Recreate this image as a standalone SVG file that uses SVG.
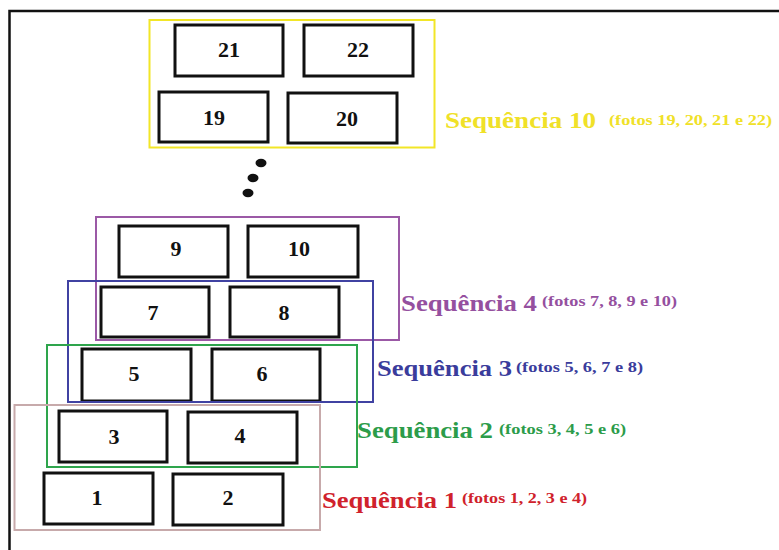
<svg xmlns="http://www.w3.org/2000/svg" width="779" height="550" viewBox="0 0 779 550">
  <style>
    .photo rect { fill: #ffffff; stroke: #111111; stroke-width: 3; }
    .photo text { font-family: "Liberation Serif", "Times New Roman", serif; font-weight: bold; font-size: 22px; fill: #111111; text-anchor: middle; }
    .seq { fill: none; stroke-width: 2; }
    .title { font-family: "Liberation Serif", "Times New Roman", serif; font-weight: bold; font-size: 23px; }
    .note { font-family: "Liberation Serif", "Times New Roman", serif; font-weight: bold; font-size: 14px; }
  </style>

  <rect x="0" y="0" width="779" height="550" fill="#ffffff"/>
  <!-- page border -->
  <path d="M9.5,550 V11 H779" fill="none" stroke="#111111" stroke-width="2.5"/>

  <!-- photos -->
  <g id="photo-21" class="photo"><rect x="175" y="25" width="108" height="51"/><text x="229" y="57">21</text></g>
  <g id="photo-22" class="photo"><rect x="304" y="25" width="109" height="51"/><text x="358" y="57">22</text></g>
  <g id="photo-19" class="photo"><rect x="159" y="92" width="109" height="50"/><text x="214" y="125">19</text></g>
  <g id="photo-20" class="photo"><rect x="288" y="93" width="109" height="50"/><text x="347" y="126">20</text></g>

  <g id="photo-9" class="photo"><rect x="119" y="226" width="109" height="51"/><text x="176" y="256">9</text></g>
  <g id="photo-10" class="photo"><rect x="248" y="226" width="110" height="51"/><text x="299" y="256">10</text></g>
  <g id="photo-7" class="photo"><rect x="101" y="287" width="108" height="50"/><text x="153" y="320">7</text></g>
  <g id="photo-8" class="photo"><rect x="230" y="287" width="109" height="50"/><text x="284" y="320">8</text></g>
  <g id="photo-5" class="photo"><rect x="82" y="349" width="109" height="52"/><text x="134" y="381">5</text></g>
  <g id="photo-6" class="photo"><rect x="212" y="349" width="108" height="52"/><text x="262" y="381">6</text></g>
  <g id="photo-3" class="photo"><rect x="59" y="411" width="108" height="51"/><text x="114" y="444">3</text></g>
  <g id="photo-4" class="photo"><rect x="188" y="412" width="109" height="51"/><text x="240" y="443">4</text></g>
  <g id="photo-1" class="photo"><rect x="44" y="473" width="109" height="51"/><text x="97" y="505">1</text></g>
  <g id="photo-2" class="photo"><rect x="173" y="474" width="110" height="51"/><text x="228" y="505">2</text></g>

  <!-- sequence frames -->
  <g id="seq-10"><rect class="seq" x="149.5" y="20" width="285" height="127.5" stroke="#f2e627"/></g>
  <g id="seq-4"><rect class="seq" x="96" y="217" width="303" height="123" stroke="#9b59a6"/></g>
  <g id="seq-3"><rect class="seq" x="68" y="281" width="305" height="121" stroke="#4042a2"/></g>
  <g id="seq-2"><rect class="seq" x="47" y="345" width="310" height="122" stroke="#2ea54c"/></g>
  <g id="seq-1"><rect class="seq" x="14.5" y="405" width="305.5" height="125" stroke="#c7aaab"/></g>

  <!-- ellipsis between sequence 4 and sequence 10 -->
  <g id="ellipsis" fill="#111111">
    <ellipse cx="261" cy="163" rx="5.5" ry="4.2"/>
    <ellipse cx="253" cy="178" rx="5.5" ry="4.2"/>
    <ellipse cx="248" cy="193" rx="5.5" ry="4.2"/>
  </g>

  <!-- sequence labels -->
  <g id="label-10" fill="#f0e128">
    <text class="title" x="445" y="128" textLength="151" lengthAdjust="spacingAndGlyphs">Sequência 10</text>
    <text class="note" x="609" y="125" textLength="163" lengthAdjust="spacingAndGlyphs">(fotos 19, 20, 21 e 22)</text>
  </g>
  <g id="label-4" fill="#95509f">
    <text class="title" x="401" y="311" textLength="136" lengthAdjust="spacingAndGlyphs">Sequência 4</text>
    <text class="note" x="542" y="306" textLength="135" lengthAdjust="spacingAndGlyphs">(fotos 7, 8, 9 e 10)</text>
  </g>
  <g id="label-3" fill="#3a3c9c">
    <text class="title" x="377" y="376" textLength="135" lengthAdjust="spacingAndGlyphs">Sequência 3</text>
    <text class="note" x="516" y="372" textLength="127" lengthAdjust="spacingAndGlyphs">(fotos 5, 6, 7 e 8)</text>
  </g>
  <g id="label-2" fill="#2c9c4a">
    <text class="title" x="357" y="438" textLength="136" lengthAdjust="spacingAndGlyphs">Sequência 2</text>
    <text class="note" x="499" y="434" textLength="127" lengthAdjust="spacingAndGlyphs">(fotos 3, 4, 5 e 6)</text>
  </g>
  <g id="label-1" fill="#d0222c">
    <text class="title" x="322" y="508" textLength="135" lengthAdjust="spacingAndGlyphs">Sequência 1</text>
    <text class="note" x="462" y="503" textLength="125" lengthAdjust="spacingAndGlyphs">(fotos 1, 2, 3 e 4)</text>
  </g>
</svg>
